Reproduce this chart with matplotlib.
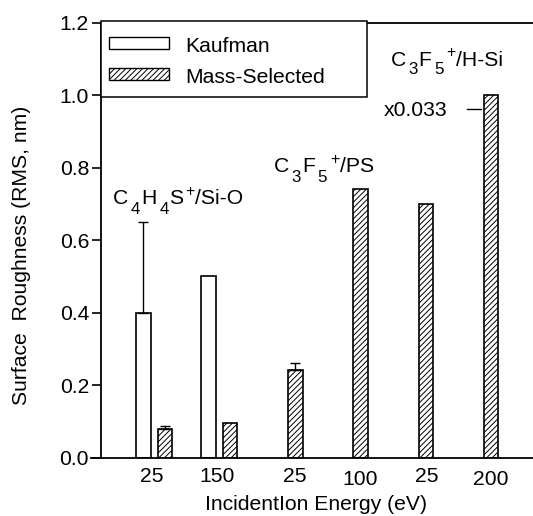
import numpy as np
import matplotlib
matplotlib.use("Agg")
import matplotlib.pyplot as plt
from matplotlib.patches import Rectangle
from matplotlib.lines import Line2D
from matplotlib.transforms import ScaledTranslation

plt.rcParams['font.family'] = ['Liberation Sans', 'DejaVu Sans']
plt.rcParams['hatch.linewidth'] = 0.7

# ---- data ----
tick_labels = ['25', '150', '25', '100', '25', '200']
mass_selected = [0.08, 0.095, 0.242, 0.741, 0.70, 1.00]
mass_err = [0.007, 0.0, 0.019, 0.0, 0.0, 0.0]
kaufman = [0.40, 0.50]
kaufman_err = [0.25, 0.0]

W, H = 533, 516
fig = plt.figure(figsize=(W / 100, H / 100), dpi=100)
L, R, T, B = 100.5, 533, 23, 457.5
ax = fig.add_axes([L / W, 1 - B / H, (R - L) / W, (B - T) / H])

FS = 15.2
x_mass = np.arange(len(mass_selected))
x_kauf = np.arange(len(kaufman)) - 0.33
bw = 0.222

ax.bar(x_kauf, kaufman, width=bw, facecolor='white', edgecolor='black',
       linewidth=1.2, zorder=2)
ax.bar(x_mass, mass_selected, width=bw, facecolor='white', edgecolor='black',
       linewidth=1.2, hatch='//////', zorder=2)

for xs, ys, es in [(x_kauf, kaufman, kaufman_err), (x_mass, mass_selected, mass_err)]:
    for x, y, e in zip(xs, ys, es):
        if e > 0:
            ax.errorbar([x], [y], yerr=[[0], [e]], fmt='none', ecolor='black',
                        elinewidth=1.0, capsize=3.5, capthick=1.0, zorder=3)

XL, XR = -0.989, 5.644
ax.set_xlim(XL, XR)
ax.set_ylim(0, 1.2)
yt = np.arange(0, 1.21, 0.2)
ax.set_yticks(yt)
ax.set_yticklabels([f'{v:.1f}' for v in yt], fontsize=FS)
ax.set_xticks([-0.21, 0.80, 1.99, 2.99, 4.01, 4.99])
ax.set_xticklabels(tick_labels, fontsize=FS)
ax.tick_params(axis='x', length=0, pad=6.5)
ax.tick_params(axis='y', direction='out', length=9.4 * 0.72, width=1.2, pad=1.5)
for lab in ax.get_xticklabels():
    if lab.get_text() in ('100', '200'):
        lab.set_transform(lab.get_transform() + ScaledTranslation(0, -3.3 / 100, fig.dpi_scale_trans))

for s in ['left', 'bottom', 'top']:
    ax.spines[s].set_linewidth(1.3)
ax.spines['right'].set_visible(False)
ax.spines['bottom'].set_bounds(XL - 9.4 / 65.2, XR)


def px(x, y):
    return x / W, 1 - y / H


renderer = fig.canvas.get_renderer()


def chem(x0, base, pieces):
    x = x0
    for s, kind in pieces:
        if kind == 'sub':
            size, dy, pre, post = FS * 0.8, 9, 2.5, 1.0
        elif kind == 'sup':
            size, dy, pre, post = FS * 0.75, -8.5, 2.0, 0.5
        else:
            size, dy, pre, post = FS, 0, 0.0, 0.0
        x += pre
        t = fig.text(*px(x, base + dy), s, fontsize=size, ha='left', va='baseline')
        x += t.get_window_extent(renderer).width + post


chem(113.3, 204.5, [('C', 'n'), ('4', 'sub'), ('H', 'n'), ('4', 'sub'), ('S', 'n'),
                    ('+', 'sup'), ('/Si-O', 'n')])
chem(274, 172.5, [('C', 'n'), ('3', 'sub'), ('F', 'n'), ('5', 'sub'), ('+', 'sup'), ('/PS', 'n')])
chem(390.5, 65.5, [('C', 'n'), ('3', 'sub'), ('F', 'n'), ('5', 'sub'), ('+', 'sup'), ('/H-Si', 'n')])
fig.text(*px(383.5, 116.5), 'x0.033', fontsize=FS, ha='left', va='baseline')
fig.add_artist(Line2D([467 / W, 480.5 / W], [1 - 108.8 / H] * 2, transform=fig.transFigure,
                      color='black', linewidth=1.0))

# ---- legend (manual) ----
fig.patches.append(Rectangle(px(101, 97), (366.7 - 101) / W, (97 - 21) / H,
                             transform=fig.transFigure, facecolor='white',
                             edgecolor='black', linewidth=1.1, zorder=5))
fig.patches.append(Rectangle(px(108.5, 49), 60 / W, 11.5 / H, transform=fig.transFigure,
                             facecolor='white', edgecolor='black', linewidth=1.0, zorder=6))
fig.patches.append(Rectangle(px(108.5, 80), 60 / W, 12 / H, transform=fig.transFigure,
                             facecolor='white', edgecolor='black', linewidth=1.0,
                             hatch='//////', zorder=6))
fig.text(*px(185, 51.5), 'Kaufman', fontsize=FS, ha='left', va='baseline', zorder=7)
fig.text(*px(185, 82.5), 'Mass-Selected', fontsize=FS, ha='left', va='baseline', zorder=7)

# ---- axis labels ----
fig.text(*px(315.8, 509.5), 'IncidentIon Energy (eV)', fontsize=FS, ha='center', va='baseline')
fig.text(*px(21.5, 255), 'Surface  Roughness (RMS, nm)', fontsize=FS, ha='center',
         va='center', rotation=90)

fig.savefig('out.png', dpi=100)
